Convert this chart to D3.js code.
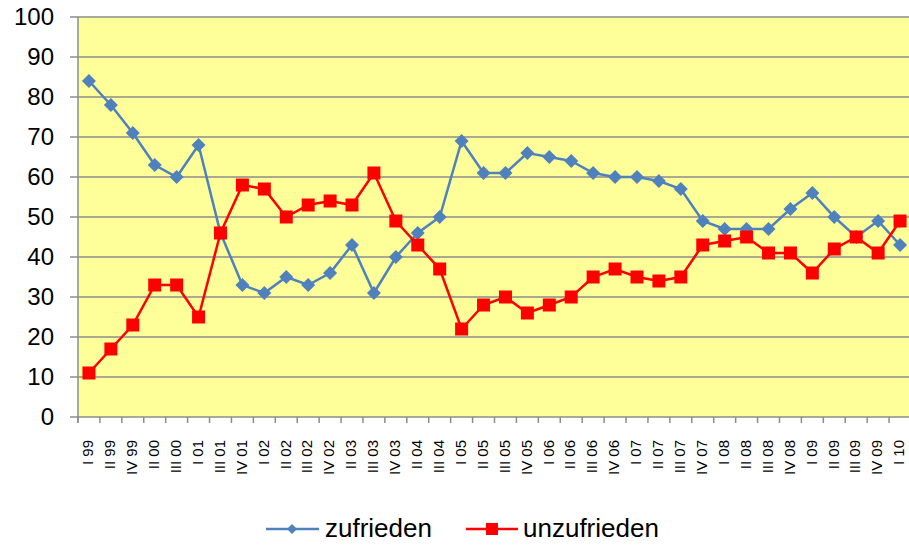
<!DOCTYPE html>
<html>
<head>
<meta charset="utf-8">
<script src="https://cdn.jsdelivr.net/npm/d3@7"></script>
<style>
  body { margin: 0; background: #fff; }
  svg { display: block; font-family: "Liberation Sans", Arial, sans-serif; }
</style>
</head>
<body>
<div id="chart-area"></div>
<script>
var quarters = ['I 99', 'II 99', 'IV 99', 'II 00', 'III 00', 'I 01', 'III 01', 'IV 01', 'I 02', 'II 02',
  'III 02', 'IV 02', 'II 03', 'III 03', 'IV 03', 'II 04', 'III 04', 'I 05', 'II 05', 'III 05',
  'IV 05', 'I 06', 'II 06', 'III 06', 'IV 06', 'I 07', 'II 07', 'III 07', 'IV 07', 'I 08',
  'II 08', 'III 08', 'IV 08', 'I 09', 'II 09', 'III 09', 'IV 09', 'I 10'];

var zufrieden = [84, 78, 71, 63, 60, 68, 46, 33, 31, 35, 33, 36, 43, 31, 40, 46, 50, 69, 61, 61,
  66, 65, 64, 61, 60, 60, 59, 57, 49, 47, 47, 47, 52, 56, 50, 45, 49, 43];

var unzufrieden = [11, 17, 23, 33, 33, 25, 46, 58, 57, 50, 53, 54, 53, 61, 49, 43, 37, 22, 28, 30,
  26, 28, 30, 35, 37, 35, 34, 35, 43, 44, 45, 41, 41, 36, 42, 45, 41, 49];

var yTicks = [0, 10, 20, 30, 40, 50, 60, 70, 80, 90, 100];

var W = 909, H = 545;
var margin = { top: 17, left: 78, bottom: 128, right: -2 };
var width = W - margin.left - margin.right;
var height = H - margin.top - margin.bottom;

var svg = d3.select('#chart-area').append('svg')
    .attr('width', W)
    .attr('height', H);

var g = svg.append('g').attr('transform', `translate(${margin.left}, ${margin.top})`);

var x = d3.scaleBand().domain(quarters).range([0, width]);
var y = d3.scaleLinear().domain([0, 100]).range([height, 0]);

// diamond marker path, r = half diagonal
var diamond = r => `M0,${-r}L${r},0L0,${r}L${-r},0Z`;

// plot background
g.append('rect')
    .attr('width', width)
    .attr('height', height)
    .attr('fill', '#ffff99');

// gridlines
g.selectAll('.grid').data(yTicks).enter()
  .append('line')
    .attr('class', 'grid')
    .attr('x1', -8)
    .attr('x2', width)
    .attr('y1', d => y(d))
    .attr('y2', d => y(d))
    .attr('stroke', '#8c8c8c')
    .attr('stroke-width', 1.5);

// y axis line
g.append('line')
    .attr('x1', 0).attr('x2', 0)
    .attr('y1', 0).attr('y2', height + 6)
    .attr('stroke', '#8c8c8c')
    .attr('stroke-width', 1.5);

// y labels
g.selectAll('.ylab').data(yTicks).enter()
  .append('text')
    .attr('class', 'ylab')
    .attr('x', -24)
    .attr('y', d => y(d))
    .attr('dy', '0.35em')
    .attr('text-anchor', 'end')
    .attr('font-size', '24px')
    .attr('fill', '#000')
    .text(d => d);

// x ticks at band boundaries
var bounds = quarters.map(d => x(d)).concat([width]);
g.selectAll('.xtick').data(bounds).enter()
  .append('line')
    .attr('class', 'xtick')
    .attr('x1', d => d).attr('x2', d => d)
    .attr('y1', height).attr('y2', height + 6)
    .attr('stroke', '#8c8c8c')
    .attr('stroke-width', 1.5);

// x labels
g.selectAll('.xlab').data(quarters).enter()
  .append('text')
    .attr('class', 'xlab')
    .attr('transform', d => `translate(${x(d) + x.bandwidth() / 2 - 1}, ${height + 23}) rotate(-90)`)
    .attr('dy', '0.35em')
    .attr('text-anchor', 'end')
    .attr('font-size', '15px')
    .attr('fill', '#000')
    .text(d => d);

var cx = (d, i) => x(quarters[i]) + x.bandwidth() / 2;

var line = d3.line()
    .x((d, i) => cx(d, i))
    .y(d => y(d));

// zufrieden
g.append('path')
    .datum(zufrieden)
    .attr('d', line)
    .attr('fill', 'none')
    .attr('stroke', '#4f81bd')
    .attr('stroke-width', 2.5);

g.selectAll('.dia').data(zufrieden).enter()
  .append('path')
    .attr('class', 'dia')
    .attr('d', diamond(7))
    .attr('transform', (d, i) => `translate(${cx(d, i)}, ${y(d)})`)
    .attr('fill', '#4f81bd');

// unzufrieden
g.append('path')
    .datum(unzufrieden)
    .attr('d', line)
    .attr('fill', 'none')
    .attr('stroke', '#ff0000')
    .attr('stroke-width', 2.5);

g.selectAll('.sq').data(unzufrieden).enter()
  .append('rect')
    .attr('class', 'sq')
    .attr('x', (d, i) => cx(d, i) - 6.5)
    .attr('y', d => y(d) - 6.5)
    .attr('width', 13)
    .attr('height', 13)
    .attr('fill', '#ff0000');

// legend
var legend = svg.append('g').attr('transform', 'translate(0, 529)');

legend.append('line')
    .attr('x1', 266).attr('x2', 319).attr('y1', 0).attr('y2', 0)
    .attr('stroke', '#4f81bd').attr('stroke-width', 2.5);
legend.append('path')
    .attr('d', diamond(5))
    .attr('transform', 'translate(292, 0)')
    .attr('fill', '#4f81bd');
legend.append('text')
    .attr('x', 325).attr('y', 8)
    .attr('font-size', '26px')
    .text('zufrieden');

legend.append('line')
    .attr('x1', 466).attr('x2', 518).attr('y1', 0).attr('y2', 0)
    .attr('stroke', '#ff0000').attr('stroke-width', 2.5);
legend.append('rect')
    .attr('x', 486).attr('y', -6).attr('width', 12).attr('height', 12)
    .attr('fill', '#ff0000');
legend.append('text')
    .attr('x', 523).attr('y', 8)
    .attr('font-size', '26px')
    .text('unzufrieden');
</script>
</body>
</html>
